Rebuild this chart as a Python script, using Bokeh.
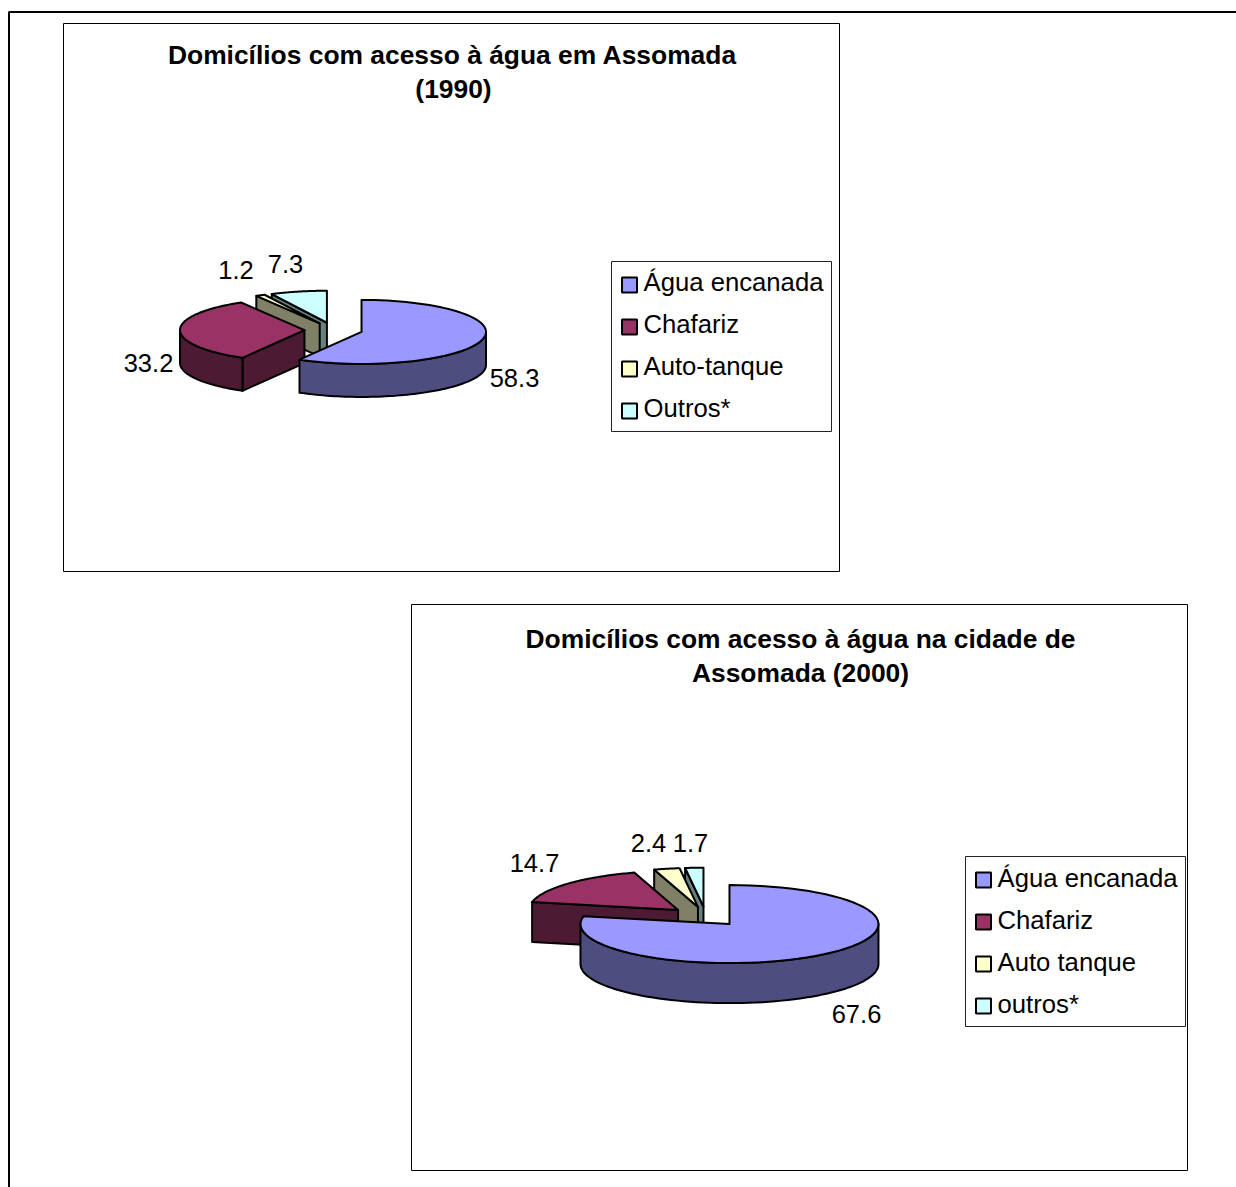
import math
from bokeh.plotting import figure
from bokeh.models import Range1d
from bokeh.core.properties import value
from bokeh.embed import file_html
from bokeh.resources import INLINE

# ---- data ----
titles_1990 = ["Domicílios com acesso à água em Assomada", "(1990)"]
titles_2000 = ["Domicílios com acesso à água na cidade de", "Assomada (2000)"]
legend_1990 = ["Água encanada", "Chafariz", "Auto-tanque", "Outros*"]
legend_2000 = ["Água encanada", "Chafariz", "Auto tanque", "outros*"]
values_1990 = [58.3, 33.2, 1.2, 7.3]
values_2000 = [67.6, 14.7, 2.4, 1.7]

# ---- styles ----
TOP = ["#9999FF", "#993366", "#FFFFCC", "#CCFFFF"]
WALL = ["#4D4D80", "#4D1A33", "#808066", "#668080"]
FONT = value("Liberation Sans")

W, H = 1236, 1187
p = figure(width=W, height=H, x_range=Range1d(1, W + 1), y_range=Range1d(H + 1, 1),
           output_backend="svg", toolbar_location=None, min_border=0,
           x_axis_location=None, y_axis_location=None, background_fill_color="white")
p.grid.visible = False
p.outline_line_color = None


def arc(cx, cy, rx, ry, a0, a1, n=70):
    pts = []
    for i in range(n + 1):
        a = math.radians(a0 + (a1 - a0) * i / n)
        pts.append((cx + rx * math.sin(a), cy - ry * math.cos(a)))
    return pts


def pie(values, cx, cy, rx, ry, depth, explode):
    total = sum(values)
    spans = []
    start = 0.0
    for v in values:
        spans.append((start, start + v / total * 360))
        start += v / total * 360
    xs, ys, fills = [], [], []

    def add(pts, color):
        xs.append([q[0] for q in pts])
        ys.append([q[1] for q in pts])
        fills.append(color)

    # painter's order: back slices first, the first slice last
    for i in [3, 2, 1, 0]:
        a0, a1 = spans[i]
        mid = math.radians((a0 + a1) / 2)
        sx = cx + explode * math.sin(mid)
        sy = cy - explode * (ry / rx) * math.cos(mid)
        # radial walls that face the viewer
        for ang, visible in ((a0, math.sin(math.radians(a0)) < -1e-6),
                             (a1, math.sin(math.radians(a1)) > 1e-6)):
            if visible:
                rim = arc(sx, sy, rx, ry, ang, ang, 1)[0]
                add([(sx, sy), rim, (rim[0], rim[1] + depth), (sx, sy + depth)], WALL[i])
        # outer wall
        b0, b1 = max(a0, 90), min(a1, 270)
        if b1 > b0:
            rim = arc(sx, sy, rx, ry, b0, b1)
            add(rim + [(q[0], q[1] + depth) for q in reversed(rim)], WALL[i])
        # top face
        add([(sx, sy)] + arc(sx, sy, rx, ry, a0, a1), TOP[i])
    p.patches(xs, ys, fill_color=fills, line_color="black", line_width=2, line_join="round")


def label(xs, ys, texts, size, align="center", style="normal"):
    p.text(xs, ys, text=texts, text_font=FONT, text_font_size=size, text_color="black",
           text_align=align, text_baseline="alphabetic", text_font_style=style, y_offset=-7.5)


def legend(x0, y0, names, text_dy=0):
    p.quad(left=[x0], right=[x0 + 220], top=[y0], bottom=[y0 + 170], fill_color="white",
           line_color="#222222", line_width=1)
    cy = [y0 + 23.5 + 42 * i for i in range(4)]
    p.rect([x0 + 18] * 4, cy, width=15, height=15, fill_color=TOP, line_color="black", line_width=2)
    label([x0 + 32] * 4, [y0 + 28 + text_dy + 42 * i for i in range(4)], names, "25.7px", "left")


def frame(x0, y0, x1, y1):
    p.quad(left=[x0], right=[x1], top=[y0], bottom=[y1], fill_color="white",
           line_color="black", line_width=1)


# page border
p.line([9.5, 9.5, 1237], [1188, 12.5, 12.5], line_color="black", line_width=2)

# 1990
frame(64, 24, 840, 572)
pie(values_1990, 334, 330.5, 124.5, 32, 33, 29)
label([453, 454], [63, 97], titles_1990, "26.4px", style="bold")
label([515, 149, 236.5, 286], [386, 371, 278, 272],
      [str(values_1990[0]), str(values_1990[1]), str(values_1990[2]), str(values_1990[3])], "25.5px")
legend(612, 262, legend_1990)

# 2000
frame(412, 605, 1188, 1171)
pie(values_2000, 706.3, 917, 149, 39, 40, 37.5)
label([801, 801], [647, 681], titles_2000, "26.4px", style="bold")
label([857, 535, 649, 691], [1022, 871, 851, 851],
      [str(values_2000[0]), str(values_2000[1]), str(values_2000[2]), str(values_2000[3])], "25.5px")
legend(966, 857, legend_2000, text_dy=1)

open("out.html", "w").write(file_html(p, INLINE))
